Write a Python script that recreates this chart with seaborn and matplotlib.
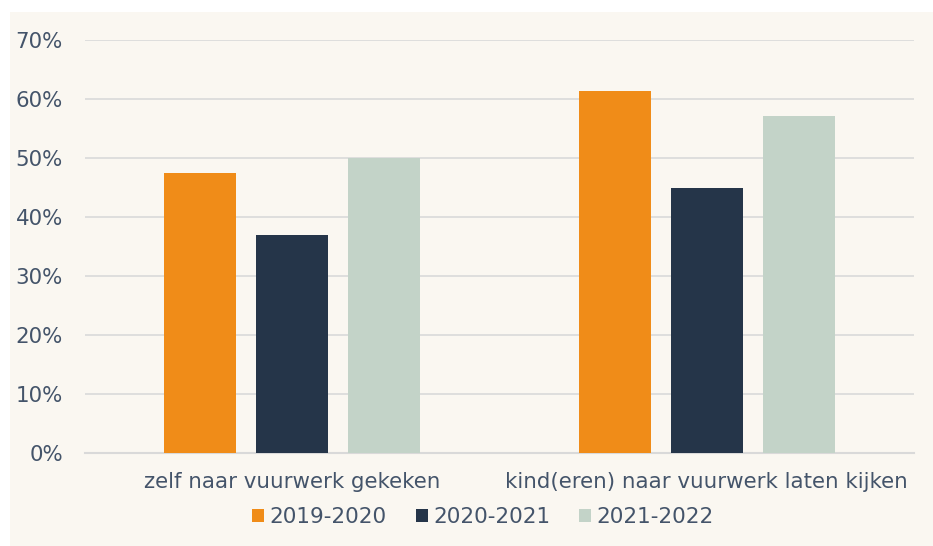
import matplotlib
matplotlib.use("Agg")
import matplotlib.pyplot as plt
import matplotlib.patches as mpatches
from matplotlib.ticker import FuncFormatter
import seaborn as sns
import pandas as pd

categories = ["zelf naar vuurwerk gekeken", "kind(eren) naar vuurwerk laten kijken"]
series = ["2019-2020", "2020-2021", "2021-2022"]
values_2019_2020 = [47.5, 61.3]
values_2020_2021 = [37.0, 45.0]
values_2021_2022 = [50.0, 57.2]
yticks = [0, 10, 20, 30, 40, 50, 60, 70]

colors = ["#F08C18", "#253549", "#C3D3C8"]
text_color = "#44546A"
bg = "#FAF7F1"

rows = []
for s, vals in zip(series, [values_2019_2020, values_2020_2021, values_2021_2022]):
    for c, v in zip(categories, vals):
        rows.append({"categorie": c, "jaar": s, "waarde": v})
df = pd.DataFrame(rows)

sns.set_theme(style="white")
plt.rcParams["font.family"] = ["DejaVu Sans"]

W, H = 933, 546
fig = plt.figure(figsize=(W / 100, H / 100), dpi=100, facecolor="white")
bgrect = mpatches.Rectangle((10 / W, 0), 1 - 10 / W, (H - 12) / H,
                            transform=fig.transFigure, facecolor=bg,
                            edgecolor="none", zorder=-10)
fig.patches.append(bgrect)

ax = fig.add_axes([85 / W, (H - 453) / H, (914 - 85) / W, (453 - 40) / H])
ax.set_zorder(1)
ax.patch.set_alpha(0)

sns.barplot(data=df, x="categorie", y="waarde", hue="jaar", order=categories,
            hue_order=series, palette=colors, width=0.666, gap=0.217,
            saturation=1, ax=ax, zorder=3, legend=True, linewidth=0)

ax.set_ylim(0, 70)
ax.set_yticks(yticks)
ax.yaxis.set_major_formatter(FuncFormatter(lambda v, p: f"{int(v)}%"))
ax.grid(axis="y", color="#D9D9D9", linewidth=1.2, zorder=0)
ax.set_axisbelow(True)
for side in ["top", "right", "left"]:
    ax.spines[side].set_visible(False)
ax.spines["bottom"].set_color("#D9D9D9")
ax.spines["bottom"].set_linewidth(1.5)
ax.set_xlabel("")
ax.set_ylabel("")
ax.tick_params(axis="both", length=0, labelsize=15.4, colors=text_color)
ax.tick_params(axis="y", pad=16)
ax.tick_params(axis="x", pad=14)

handles, labels = ax.get_legend_handles_labels()
ax.legend(handles, labels, loc="center", bbox_to_anchor=(483 / W, (H - 517) / H),
          bbox_transform=fig.transFigure, ncol=3, frameon=False, fontsize=15.5,
          labelcolor=text_color, handlelength=0.56, handleheight=0.56,
          handletextpad=0.25, columnspacing=1.35)

fig.savefig("out.png", dpi=100, facecolor="white")
